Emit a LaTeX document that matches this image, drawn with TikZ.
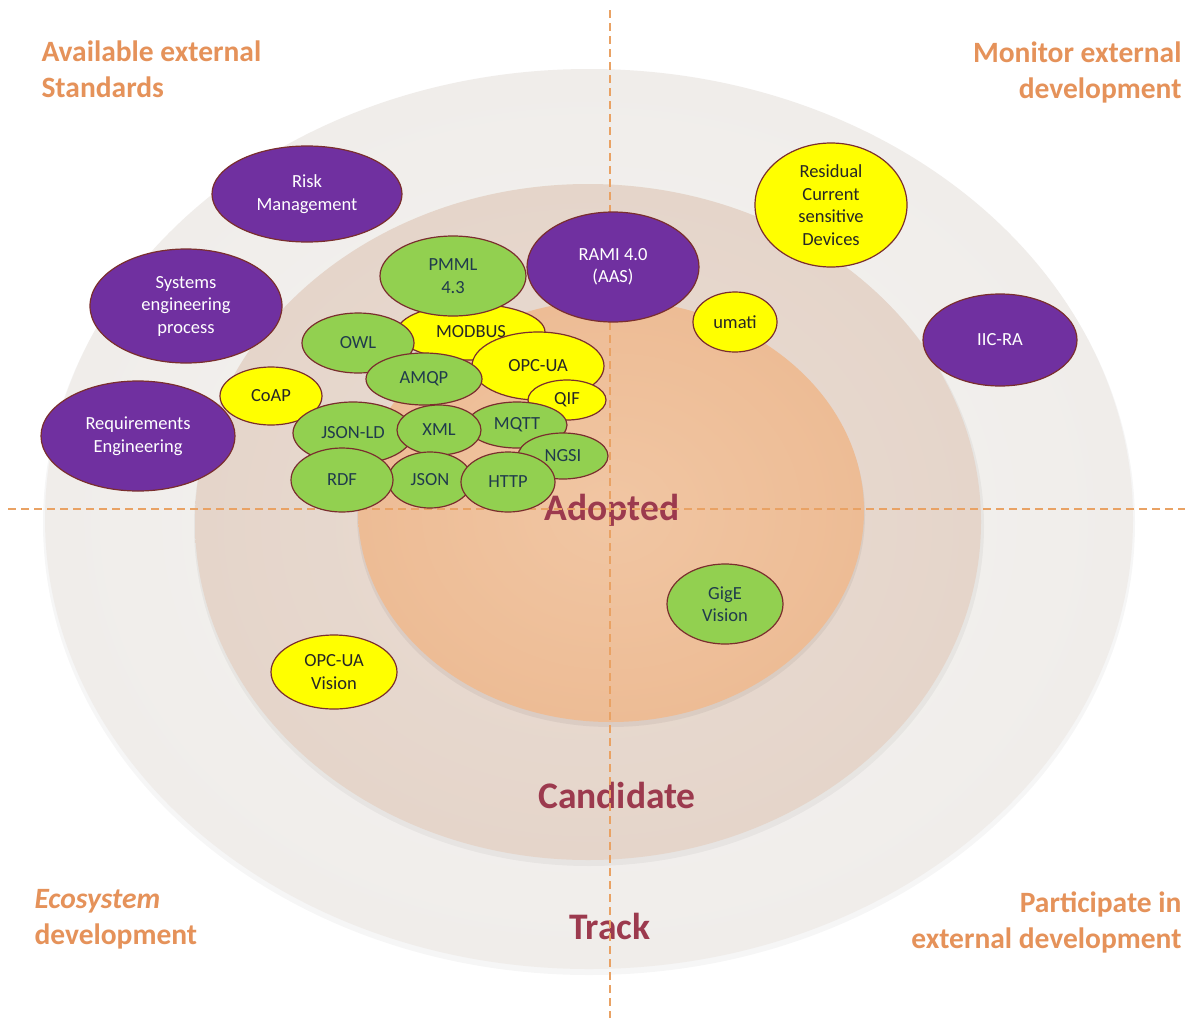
\documentclass[tikz,border=0pt]{standalone}
\usepackage{fontspec}
\setmainfont{Carlito}
\usetikzlibrary{shapes.geometric}

\definecolor{trackfill}{HTML}{F5F3F1}
\definecolor{trackedge}{HTML}{F0EDEA}
\definecolor{candfill}{HTML}{E9DCD3}
\definecolor{candedge}{HTML}{E5D5CA}
\definecolor{adoptfill}{HTML}{F1C6A3}
\definecolor{adoptedge}{HTML}{EDBC95}
\definecolor{quadline}{HTML}{E9A264}
\definecolor{quadtext}{HTML}{E5925A}
\definecolor{ringtext}{HTML}{9C3A4E}
\definecolor{rim}{HTML}{7A2E2E}
\definecolor{purp}{HTML}{7030A0}
\definecolor{yell}{HTML}{FFFF00}
\definecolor{gren}{HTML}{92D050}
\definecolor{grentext}{HTML}{203B4C}

\tikzset{dims/.style 2 args={minimum width=#1pt,minimum height=#2pt}}

\begin{document}
\begin{tikzpicture}[x=1pt,y=-1pt,
  ring/.style={ellipse,inner sep=0pt,shading=radial},
  std/.style={ellipse,draw=rim,line width=1.2pt,inner sep=0pt,align=center,
    font=\fontsize{18.5}{22.5}\selectfont},
  external/.style={std,fill=purp,text=white},
  candid/.style={std,fill=yell,text=black!85},
  adopt/.style={std,fill=gren,text=grentext},
  quad/.style={font=\fontsize{29.5}{36}\selectfont\bfseries,text=quadtext},
  ringlabel/.style={font=\fontsize{37.5}{42}\selectfont\bfseries,text=ringtext}]

  \useasboundingbox[fill=white] (0,0) rectangle (1188,1020);

  % the three rings, with a soft shadow below each
  \fill[black,opacity=0.035] (589,523) ellipse [x radius=546pt,y radius=452pt];
  \node[ring,inner color=trackfill,outer color=trackedge,dims={1088}{900}] (track) at (589,519) {};
  \fill[black,opacity=0.04] (589,526) ellipse [x radius=395pt,y radius=340pt];
  \node[ring,inner color=candfill,outer color=candedge,dims={786}{676}] (candidate) at (588,522) {};
  \fill[black,opacity=0.05] (611,515) ellipse [x radius=254pt,y radius=212pt];
  \node[ring,inner color=adoptfill,outer color=adoptedge,dims={506}{422}] (adopted) at (611,511) {};

  \node[ringlabel] (adoptlbl) at (612,510) {Adopted};
  \node[ringlabel] (candlbl) at (617,795) {Candidate};
  \node[ringlabel] (tracklbl) at (610,926) {Track};

  % quadrant dividers
  \draw[quadline,line width=1.3pt,dash pattern=on 8pt off 5pt] (8,509) -- (1185,509);
  \draw[quadline,line width=1.3pt,dash pattern=on 8pt off 5pt] (610,10) -- (610,1018);

  \node[quad,anchor=north west,align=left] (q1) at (38,37) {Available external\\Standards};
  \node[quad,anchor=north east,align=right] (q2) at (1185,38) {Monitor external\\development};
  \node[quad,anchor=north west,align=left] (q3) at (31,886) {\itshape Ecosystem\\development};
  \node[quad,anchor=north east,align=right] (q4) at (1185,888) {Participate in\\external development};

  % outer standards
  \node[external,dims={190}{96}] (risk) at (307,194) {Risk\\Management};
  \node[external,dims={192}{114}] (sysen) at (186,306) {Systems\\engineering\\process};
  \node[external,dims={194}{110}] (reqeng) at (138,436) {Requirements\\Engineering};
  \node[external,dims={154}{92}] (iic) at (1000,340) {IIC-RA};
  \node[candid,dims={152}{124}] (rcd) at (831,205) {Residual\\Current\\sensitive\\Devices};
  \node[candid,dims={84}{60}] (umati) at (735,322) {umati};

  % the cluster
  \node[candid,dims={148}{56}] (modbus) at (471,332) {MODBUS};
  \node[adopt,dims={146}{80}] (pmml) at (453,276) {PMML\\4.3};
  \node[external,dims={172}{110}] (rami) at (613,267) {RAMI 4.0\\(AAS)};
  \node[adopt,dims={112}{60}] (owl) at (358,343) {OWL};
  \node[candid,dims={132}{68}] (opcua) at (538,366) {OPC-UA};
  \node[adopt,dims={116}{52}] (amqp) at (424,379) {AMQP};
  \node[candid,dims={78}{40}] (qif) at (567,400) {QIF};
  \node[candid,dims={102}{58}] (coap) at (271,396) {CoAP};
  \node[adopt,dims={120}{62}] (jsonld) at (353,433) {JSON-LD};
  \node[adopt,dims={100}{46}] (mqtt) at (517,425) {MQTT};
  \node[adopt,dims={84}{50}] (xml) at (439,430) {XML};
  \node[adopt,dims={90}{46}] (ngsi) at (563,456) {NGSI};
  \node[adopt,dims={84}{56}] (json) at (430,480) {JSON};
  \node[adopt,dims={102}{64}] (rdf) at (342,480) {RDF};
  \node[adopt,dims={94}{60}] (http) at (508,482) {HTTP};

  \node[adopt,dims={116}{80}] (gige) at (725,604) {GigE\\Vision};
  \node[candid,dims={126}{74}] (opcvision) at (334,672) {OPC-UA\\Vision};
\end{tikzpicture}
\end{document}
